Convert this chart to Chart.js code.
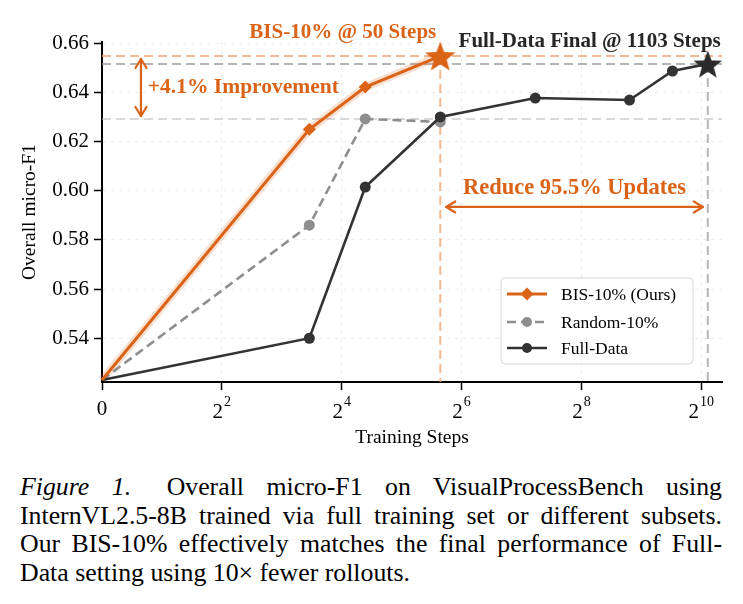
<!DOCTYPE html>
<html>
<head>
<meta charset="utf-8">
<script src="https://cdn.jsdelivr.net/npm/chart.js@4/dist/chart.umd.min.js"></script>
<style>
  html, body { margin: 0; padding: 0; background: #fff; }
  #wrap { position: relative; width: 743px; height: 604px; overflow: hidden; }
  canvas { position: absolute; left: 0; top: 0; }
  #cap { position: absolute; left: 20px; top: 473px; width: 702px;
         font-family: "Liberation Serif", "Times New Roman", serif; font-size: 25.8px;
         line-height: 28.7px; color: #000; }
  #cap .l { white-space: nowrap; }
  #cap .j { text-align: justify; text-align-last: justify; white-space: normal; }
</style>
</head>
<body>
<div id="wrap">
  <canvas id="c" width="743" height="455"></canvas>
  <div id="cap">
    <div class="l j"><i>Figure 1.</i>&ensp; Overall micro-F1 on VisualProcessBench using</div>
    <div class="l j">InternVL2.5-8B trained via full training set or different subsets.</div>
    <div class="l j">Our BIS-10% effectively matches the final performance of Full-</div>
    <div class="l">Data setting using 10× fewer rollouts.</div>
  </div>
</div>
<script>
// ---------------- data ----------------
const seriesNames = ['BIS-10% (Ours)', 'Random-10%', 'Full-Data'];
const bisSteps  = [0, 11, 21, 50];
const bisF1     = [0.523, 0.625, 0.6422, 0.6548];
const randSteps = [0, 11, 21, 50];
const randF1    = [0.523, 0.586, 0.6292, 0.628];
const fullSteps = [0, 11, 21, 50, 150, 446, 733, 1103];
const fullF1    = [0.523, 0.540, 0.6015, 0.630, 0.6377, 0.6369, 0.6487, 0.6516];
const xTicks    = [0, 4, 16, 64, 256, 1024];
const xTickBase = ['0', '2', '2', '2', '2', '2'];
const xTickExp  = ['', '2', '4', '6', '8', '10'];
const yTicks    = [0.54, 0.56, 0.58, 0.60, 0.62, 0.64, 0.66];
const xRange    = [0, 1300];
const yRange    = [0.5222, 0.6605];
const annoTexts = ['BIS-10% @ 50 Steps', 'Full-Data Final @ 1103 Steps', '+4.1% Improvement', 'Reduce 95.5% Updates'];
const improveArrowX = 1.3;       // step position of the vertical arrow
const improveTextPos = [1.53, 0.6422];
const reduceArrowY = 0.5934;
const reduceTextPos = [236, 0.6012];

// ---------------- styling ----------------
const ORANGE = '#DB6318';
const ORANGE_LIGHT = 'rgba(240,160,110,0.75)';
const GREY = '#8e8e8e';
const DARK = '#333333';
const SERIF = '"Liberation Serif", "Times New Roman", serif';

// ---------------- custom symlog base-2 scale ----------------
class Log2SymScale extends Chart.LinearScale {
  _t(v) { return v <= 2 ? v / 2 : Math.log2(v); }
  getPixelForValue(value) {
    const a = this._t(this.min), b = this._t(this.max);
    return this.getPixelForDecimal((this._t(value) - a) / (b - a));
  }
  getValueForPixel(pixel) {
    const a = this._t(this.min), b = this._t(this.max);
    const t = a + this.getDecimalForPixel(pixel) * (b - a);
    return t <= 1 ? t * 2 : Math.pow(2, t);
  }
  buildTicks() { return xTicks.map(v => ({ value: v })); }
}
Log2SymScale.id = 'log2sym';
Log2SymScale.defaults = {};
Chart.register(Log2SymScale);

function makeStar(color, R) {
  const c = document.createElement('canvas');
  const s = Math.ceil(2 * R + 4);
  c.width = s; c.height = s;
  const g = c.getContext('2d');
  const r = R * 0.42;
  g.beginPath();
  for (let i = 0; i < 10; i++) {
    const rad = (i % 2 === 0) ? R : r;
    const ang = -Math.PI / 2 + i * Math.PI / 5;
    const x = s / 2 + rad * Math.cos(ang), y = s / 2 + 1.5 + rad * Math.sin(ang);
    if (i === 0) g.moveTo(x, y); else g.lineTo(x, y);
  }
  g.closePath();
  g.fillStyle = color; g.fill();
  return c;
}
const starOrange = makeStar(ORANGE, 16);
const starDark = makeStar('#2b2b2b', 15);

const toXY = (xs, ys) => xs.map((x, i) => ({ x: x, y: ys[i] }));

function drawArrowHead(ctx, x, y, ang, len, half) {
  ctx.beginPath();
  ctx.moveTo(x - len * Math.cos(ang) + half * Math.sin(ang), y - len * Math.sin(ang) - half * Math.cos(ang));
  ctx.lineTo(x, y);
  ctx.lineTo(x - len * Math.cos(ang) - half * Math.sin(ang), y - len * Math.sin(ang) + half * Math.cos(ang));
  ctx.stroke();
}
function doubleArrow(ctx, x1, y1, x2, y2, color) {
  ctx.save();
  ctx.strokeStyle = color; ctx.lineWidth = 2.2; ctx.setLineDash([]);
  ctx.lineCap = 'round'; ctx.lineJoin = 'round';
  ctx.beginPath(); ctx.moveTo(x1, y1); ctx.lineTo(x2, y2); ctx.stroke();
  const ang = Math.atan2(y2 - y1, x2 - x1);
  drawArrowHead(ctx, x2, y2, ang, 9, 5.5);
  drawArrowHead(ctx, x1, y1, ang + Math.PI, 9, 5.5);
  ctx.restore();
}

const annotations = {
  id: 'annotations',
  beforeDatasetsDraw(chart) {
    const { ctx, chartArea: ca, scales: { x, y } } = chart;
    const bisBest = bisF1[bisF1.length - 1];
    const fullFinal = fullF1[fullF1.length - 1];
    const randBest = Math.max(...randF1);
    ctx.save();
    ctx.lineWidth = 2;
    const hl = (v, color, dash) => {
      ctx.strokeStyle = color; ctx.setLineDash(dash);
      ctx.beginPath(); ctx.moveTo(ca.left, y.getPixelForValue(v)); ctx.lineTo(ca.right, y.getPixelForValue(v)); ctx.stroke();
    };
    hl(bisBest, ORANGE_LIGHT, [9, 5]);
    hl(fullFinal, 'rgba(150,150,150,0.7)', [9, 5]);
    hl(randBest, 'rgba(185,185,185,0.55)', [9, 5]);
    const vl = (sx, v, color) => {
      ctx.strokeStyle = color; ctx.setLineDash([9, 5]);
      ctx.beginPath(); ctx.moveTo(x.getPixelForValue(sx), y.getPixelForValue(v)); ctx.lineTo(x.getPixelForValue(sx), ca.bottom); ctx.stroke();
    };
    vl(bisSteps[bisSteps.length - 1], bisBest, ORANGE_LIGHT);
    vl(fullSteps[fullSteps.length - 1], fullFinal, 'rgba(150,150,150,0.7)');
    ctx.restore();
  },
  afterDatasetsDraw(chart) {
    const { ctx, chartArea: ca, scales: { x, y } } = chart;
    const bisBest = bisF1[bisF1.length - 1];
    const fullFinal = fullF1[fullF1.length - 1];
    const randBest = Math.max(...randF1);
    const bisX = x.getPixelForValue(bisSteps[bisSteps.length - 1]);
    const fullX = x.getPixelForValue(fullSteps[fullSteps.length - 1]);
    doubleArrow(ctx, x.getPixelForValue(improveArrowX), y.getPixelForValue(bisBest) + 3,
                     x.getPixelForValue(improveArrowX), y.getPixelForValue(randBest) - 3, ORANGE);
    doubleArrow(ctx, bisX + 6, y.getPixelForValue(reduceArrowY), fullX - 5, y.getPixelForValue(reduceArrowY), ORANGE);
    ctx.save();
    ctx.textBaseline = 'middle';
    ctx.fillStyle = ORANGE;
    ctx.font = 'bold 21.5px ' + SERIF;
    ctx.textAlign = 'left';
    ctx.fillText(annoTexts[2], x.getPixelForValue(improveTextPos[0]), y.getPixelForValue(improveTextPos[1]));
    ctx.font = 'bold 22.5px ' + SERIF;
    ctx.textAlign = 'center';
    ctx.fillText(annoTexts[3], x.getPixelForValue(reduceTextPos[0]), y.getPixelForValue(reduceTextPos[1]));
    ctx.font = 'bold 21px ' + SERIF;
    ctx.textAlign = 'right';
    ctx.fillText(annoTexts[0], bisX - 4, y.getPixelForValue(bisBest) - 23);
    ctx.fillStyle = '#262626';
    ctx.font = 'bold 21px ' + SERIF;
    ctx.fillText(annoTexts[1], fullX + 13, y.getPixelForValue(fullFinal) - 22);
    ctx.restore();
  },
  afterDraw(chart) {
    const { ctx, chartArea: ca, scales: { x } } = chart;
    ctx.save();
    ctx.fillStyle = '#000';
    ctx.textBaseline = 'alphabetic';
    xTicks.forEach((v, i) => {
      const px = x.getPixelForValue(v);
      ctx.font = '21px ' + SERIF;
      const wb = ctx.measureText(xTickBase[i]).width;
      ctx.font = '14px ' + SERIF;
      const we = xTickExp[i] ? ctx.measureText(xTickExp[i]).width + 1 : 0;
      const left = px - (wb + we) / 2;
      ctx.font = '21px ' + SERIF;
      ctx.textAlign = 'left';
      ctx.fillText(xTickBase[i], left, ca.bottom + (xTickExp[i] ? 36 : 33));
      if (xTickExp[i]) {
        ctx.font = '14px ' + SERIF;
        ctx.fillText(xTickExp[i], left + wb + 1, ca.bottom + 24);
      }
    });
    const bw = 192, bh = 86;
    const bx = ca.right - 29 - bw, by = ca.bottom - 18 - bh;
    ctx.beginPath();
    if (ctx.roundRect) ctx.roundRect(bx, by, bw, bh, 4); else ctx.rect(bx, by, bw, bh);
    ctx.fillStyle = 'rgba(255,255,255,0.85)'; ctx.fill();
    ctx.strokeStyle = '#d6d6d6'; ctx.lineWidth = 1; ctx.stroke();
    const rows = [by + 16, by + 44, by + 70];
    const styles = [
      { color: ORANGE, dash: [], marker: 'diamond', w: 3 },
      { color: GREY, dash: [9, 5], marker: 'circle', w: 2.6 },
      { color: DARK, dash: [], marker: 'circle', w: 2.6 }
    ];
    rows.forEach((ry, i) => {
      const s = styles[i];
      ctx.strokeStyle = s.color; ctx.lineWidth = s.w; ctx.setLineDash(s.dash);
      ctx.beginPath(); ctx.moveTo(bx + 6, ry); ctx.lineTo(bx + 46, ry); ctx.stroke();
      ctx.setLineDash([]);
      ctx.fillStyle = s.color;
      ctx.beginPath();
      if (s.marker === 'diamond') {
        const m = 6.5, cx = bx + 26;
        ctx.moveTo(cx, ry - m); ctx.lineTo(cx + m, ry); ctx.lineTo(cx, ry + m); ctx.lineTo(cx - m, ry);
        ctx.closePath();
      } else {
        ctx.arc(bx + 26, ry, 5, 0, Math.PI * 2);
      }
      ctx.fill();
      ctx.fillStyle = '#000';
      ctx.font = '17.5px ' + SERIF;
      ctx.textAlign = 'left'; ctx.textBaseline = 'middle';
      ctx.fillText(seriesNames[i], bx + 60, ry + 1);
    });
    ctx.restore();
  }
};

const H = 455;
const GRID = 'rgba(205,205,205,0.35)';
new Chart(document.getElementById('c'), {
  type: 'line',
  data: {
    datasets: [
      {
        label: 'band', data: toXY(bisSteps, bisF1), borderColor: 'rgba(219,99,24,0.2)',
        borderWidth: 8, pointRadius: 0, order: 4, clip: false, tension: 0
      },
      {
        label: seriesNames[1], data: toXY(randSteps, randF1), borderColor: GREY, backgroundColor: GREY,
        borderWidth: 2.6, borderDash: [9, 5], pointStyle: 'circle', pointRadius: [0, 5.5, 5.5, 5.5],
        pointBorderWidth: 0, order: 3, clip: false
      },
      {
        label: seriesNames[2], data: toXY(fullSteps, fullF1), borderColor: DARK, backgroundColor: DARK,
        borderWidth: 2.6, pointStyle: ['circle', 'circle', 'circle', 'circle', 'circle', 'circle', 'circle', starDark],
        pointRadius: [0, 5.5, 5.5, 5.5, 5.5, 5.5, 5.5, 15], pointBorderWidth: 0, order: 2, clip: false
      },
      {
        label: seriesNames[0], data: toXY(bisSteps, bisF1), borderColor: ORANGE, backgroundColor: ORANGE,
        borderWidth: 3, pointStyle: ['rectRot', 'rectRot', 'rectRot', starOrange],
        pointRadius: [0, 6.5, 6.5, 16], pointBorderWidth: 0, order: 1, clip: false
      }
    ]
  },
  options: {
    responsive: false,
    animation: false,
    devicePixelRatio: 1,
    events: [],
    layout: { padding: { left: 0, right: 21, top: 42, bottom: 0 } },
    plugins: { legend: { display: false }, tooltip: { enabled: false } },
    scales: {
      x: {
        type: 'log2sym', position: 'bottom', min: xRange[0], max: xRange[1],
        afterFit(s) { s.height = H - 382; },
        ticks: { autoSkip: false, maxRotation: 0, callback: () => '', font: { family: SERIF, size: 21 } },
        grid: { color: GRID, lineWidth: 1, tickColor: '#000', tickLength: 8, tickWidth: 1.5 },
        border: { color: '#000', width: 2, dash: [4, 4] },
        title: { display: true, text: 'Training Steps', color: '#000', font: { family: SERIF, size: 19.5 },
                 padding: { top: 0, bottom: 5 } }
      },
      y: {
        type: 'linear', position: 'left', min: yRange[0], max: yRange[1],
        afterBuildTicks(s) { s.ticks = yTicks.map(v => ({ value: v })); },
        afterFit(s) { s.width = 102; },
        ticks: { color: '#000', padding: 5, font: { family: SERIF, size: 21 }, callback: v => v.toFixed(2) },
        grid: { color: GRID, lineWidth: 1, tickColor: '#000', tickLength: 8, tickWidth: 1.5 },
        border: { color: '#000', width: 2, dash: [4, 4] },
        title: { display: true, text: 'Overall micro-F1', color: '#000', font: { family: SERIF, size: 19.5 },
                 padding: { top: 18, bottom: 0 } }
      }
    }
  },
  plugins: [annotations]
});
</script>
</body>
</html>
